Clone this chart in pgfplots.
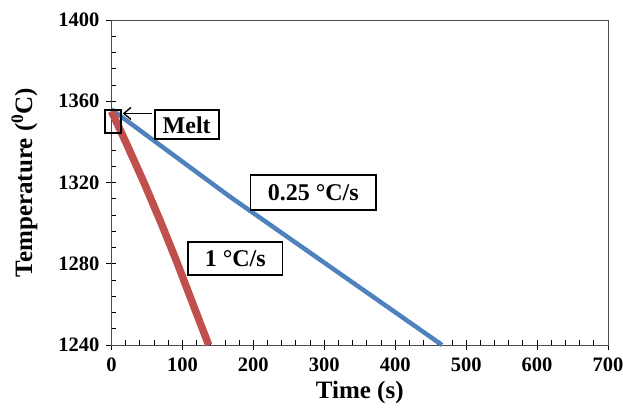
\documentclass[border=0pt]{standalone}
\usepackage{fontspec}
\setmainfont{Liberation Serif}
\usepackage{pgfplots}
\pgfplotsset{compat=1.18}
\usetikzlibrary{arrows.meta}
\definecolor{cblue}{RGB}{79,129,189}
\definecolor{cred}{RGB}{192,80,77}

\begin{document}
\begin{tikzpicture}
\useasboundingbox (-111.5pt,-64pt) rectangle (511.5pt,345pt);
\begin{axis}[
  scale only axis, width=496.5pt, height=325pt,
  at={(0,0)}, anchor=south west,
  xmin=0, xmax=700, ymin=1240, ymax=1400,
  xtick={0,100,...,700}, ytick={1240,1280,...,1400},
  minor x tick num=4, minor y tick num=4,
  xtick pos=bottom, ytick pos=left,
  tick align=inside,
  major tick length=10pt, minor tick length=5pt,
  major x tick style={yshift=-5pt},
  major y tick style={xshift=-5pt},
  tick style={black, line width=0.9pt},
  axis line style={black!70, line width=0.9pt},
  /pgf/number format/assume math mode=true,
  /pgf/number format/1000 sep={},
  xticklabel style={font=\fontsize{20.5}{22}\selectfont\bfseries, inner sep=0pt, anchor=north, yshift=-13pt},
  yticklabel style={font=\fontsize{20.5}{22}\selectfont\bfseries, inner sep=0pt, anchor=east, xshift=-12pt},
  xlabel={Time (s)},
  ylabel={Temperature (\textsuperscript{0}C)},
  xlabel style={font=\fontsize{25}{28}\selectfont\bfseries, at={([yshift=-47pt]axis description cs:0.5,0)}, anchor=center},
  ylabel style={font=\fontsize{25}{28}\selectfont\bfseries, at={([xshift=-87pt]axis description cs:0,0.5)}, anchor=center},
  clip=false,
]
\addplot[cblue, line width=4.5pt] coordinates
  {(0,1356) (167,1313) (466,1240)};
\addplot[cred, line width=7.5pt] coordinates
  {(0,1355) (20,1340) (47,1319) (70,1300) (92,1281) (115,1260) (137,1240)};

\draw[black, line width=1.8pt] (axis cs:-9,1355.7) rectangle (axis cs:13,1344.2);
\draw[black, line width=1.4pt, -{Straight Barb[length=7pt,width=12pt]}] (axis cs:57,1354) -- (axis cs:16,1354);

\draw[black, line width=1.8pt, fill=white] (axis cs:61,1355.6) rectangle (axis cs:151,1341.3);
\node[font=\fontsize{24}{26}\selectfont\bfseries] at (axis cs:106,1348.4) {Melt};

\draw[black, line width=1.8pt, fill=white] (axis cs:196,1323.6) rectangle (axis cs:373,1306.4);
\node[font=\fontsize{24}{26}\selectfont\bfseries] at (axis cs:284.5,1315) {0.25 °C/s};

\draw[black, line width=1.8pt, fill=white] (axis cs:108,1290.8) rectangle (axis cs:241,1274.4);
\node[font=\fontsize{24}{26}\selectfont\bfseries] at (axis cs:174.5,1282.6) {1 °C/s};
\end{axis}
\end{tikzpicture}
\end{document}
